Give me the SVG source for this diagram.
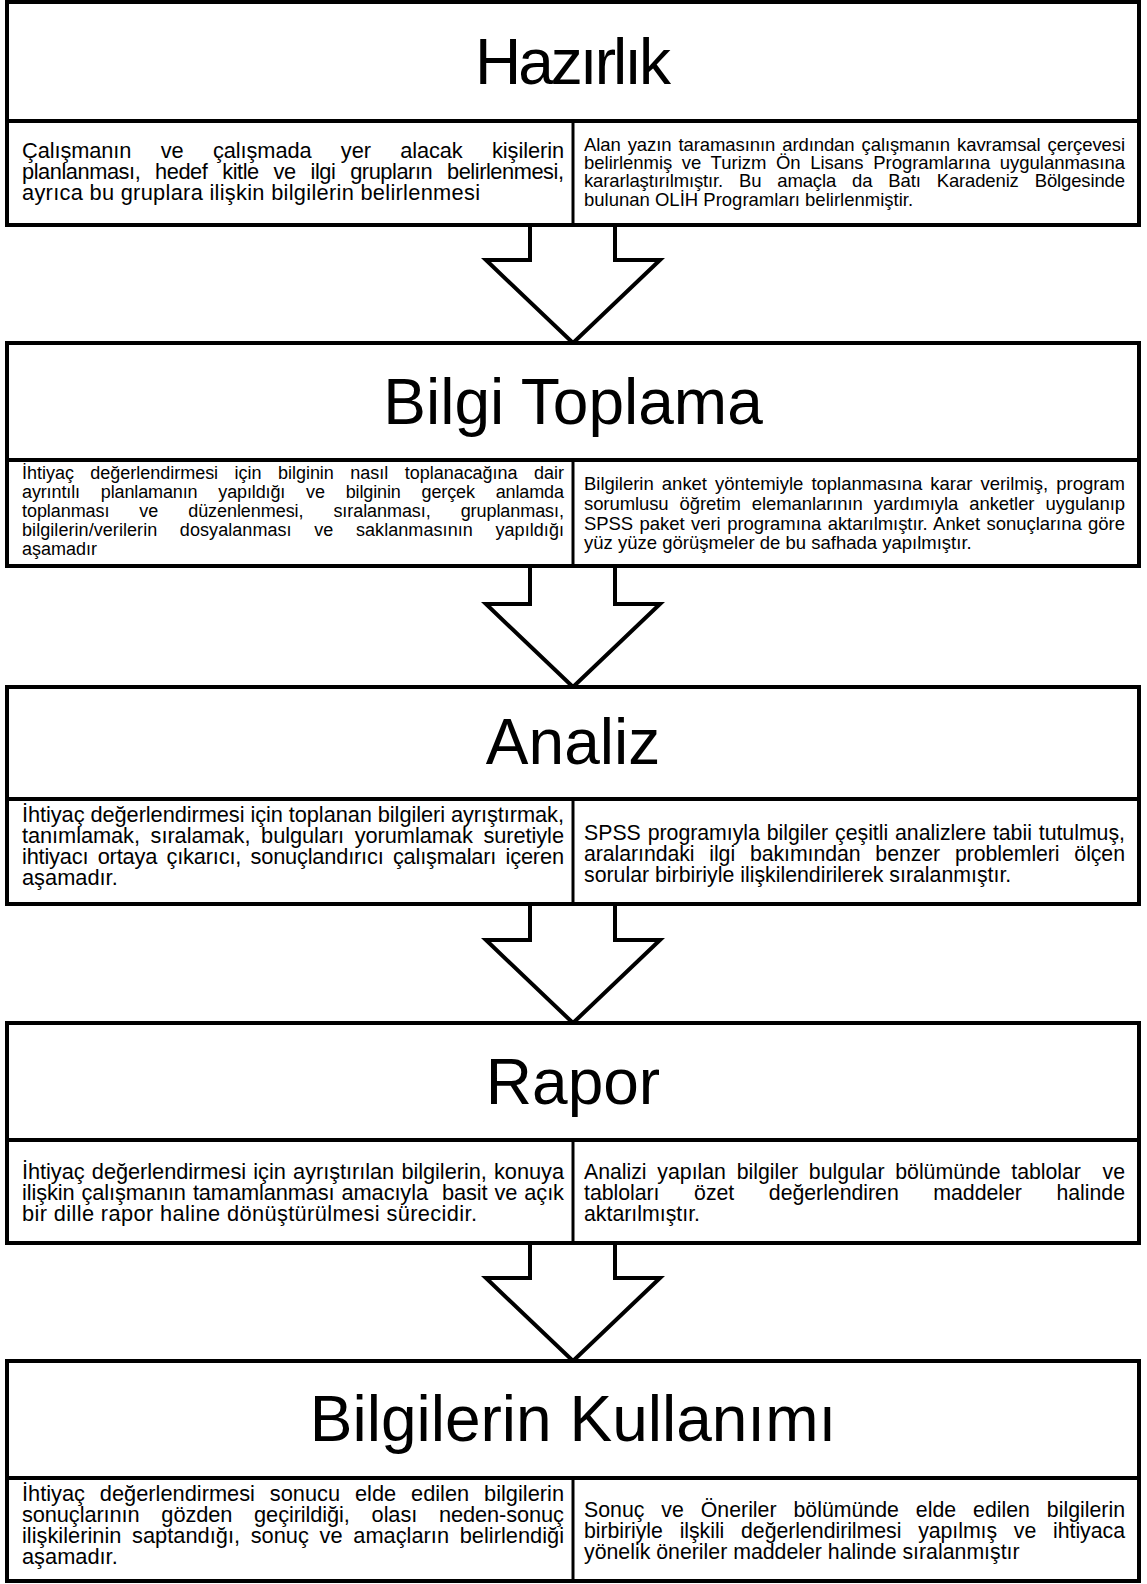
<svg xmlns="http://www.w3.org/2000/svg" width="1147" height="1584" viewBox="0 0 1147 1584">
<style>
.frame{fill:#fff;stroke:#000;stroke-width:4}
.ln{stroke:#000;stroke-width:4;fill:none}
.vd{stroke:#000;stroke-width:3;fill:none}
.title{font-family:"Liberation Sans",Arial,sans-serif;font-size:64px;fill:#000;text-anchor:middle}
.L{font-family:"Liberation Sans",Arial,sans-serif;font-size:21.8px;fill:#000}
.b{font-family:"Liberation Sans",Arial,sans-serif;font-size:21.3px;fill:#000}
.s{font-family:"Liberation Sans",Arial,sans-serif;font-size:18.5px;fill:#000}
.s2{font-family:"Liberation Sans",Arial,sans-serif;font-size:18px;fill:#000}
.arrow{fill:#fff;stroke:#000;stroke-width:4;stroke-linejoin:miter}
</style>
<rect width="1147" height="1584" fill="#fff"/>
<g id="connectors">
<path class="arrow" d="M530,225 V260 H486 L573,343 L660,260 H615 V225"/>
<path class="arrow" d="M530,566 V604 H486 L573,687 L660,604 H615 V566"/>
<path class="arrow" d="M530,904 V940 H486 L573,1023 L660,940 H615 V904"/>
<path class="arrow" d="M530,1243 V1278 H486 L573,1361 L660,1278 H615 V1243"/>
</g>
<g id="hazirlik">
<rect class="frame" x="7" y="2" width="1132" height="223"/>
<line class="ln" x1="7" y1="121" x2="1139" y2="121"/>
<line class="vd" x1="573" y1="121" x2="573" y2="225"/>
<text class="title" x="573" y="84" textLength="196" lengthAdjust="spacing">Hazırlık</text>
<text class="L" x="22" y="158" textLength="542" lengthAdjust="spacing" word-spacing="23.4">Çalışmanın ve çalışmada yer alacak kişilerin</text>
<text class="L" x="22" y="179" textLength="542" lengthAdjust="spacing" word-spacing="9.2">planlanması, hedef kitle ve ilgi grupların belirlenmesi,</text>
<text class="L" x="22" y="200" textLength="458" lengthAdjust="spacing">ayrıca bu gruplara ilişkin bilgilerin belirlenmesi</text>
<text class="s" x="584" y="151" textLength="541" lengthAdjust="spacing" word-spacing="2">Alan yazın taramasının ardından çalışmanın kavramsal çerçevesi</text>
<text class="s" x="584" y="169" textLength="541" lengthAdjust="spacing" word-spacing="4.5">belirlenmiş ve Turizm Ön Lisans Programlarına uygulanmasına</text>
<text class="s" x="584" y="187" textLength="541" lengthAdjust="spacing" word-spacing="11">kararlaştırılmıştır. Bu amaçla da Batı Karadeniz Bölgesinde</text>
<text class="s" x="584" y="206">bulunan OLİH Programları belirlenmiştir.</text>
</g>
<g id="bilgi-toplama">
<rect class="frame" x="7" y="343" width="1132" height="223"/>
<line class="ln" x1="7" y1="460" x2="1139" y2="460"/>
<line class="vd" x1="573" y1="460" x2="573" y2="566"/>
<text class="title" x="573" y="424">Bilgi Toplama</text>
<text class="s2" x="22" y="479" textLength="542" lengthAdjust="spacing" word-spacing="11.5">İhtiyaç değerlendirmesi için bilginin nasıl toplanacağına dair</text>
<text class="s2" x="22" y="498" textLength="542" lengthAdjust="spacing" word-spacing="16">ayrıntılı planlamanın yapıldığı ve bilginin gerçek anlamda</text>
<text class="s2" x="22" y="517" textLength="542" lengthAdjust="spacing" word-spacing="25">toplanması ve düzenlenmesi, sıralanması, gruplanması,</text>
<text class="s2" x="22" y="536" textLength="542" lengthAdjust="spacing" word-spacing="17.5">bilgilerin/verilerin dosyalanması ve saklanmasının yapıldığı</text>
<text class="s2" x="22" y="555">aşamadır</text>
<text class="s" x="584" y="490" textLength="541" lengthAdjust="spacing" word-spacing="3">Bilgilerin anket yöntemiyle toplanmasına karar verilmiş, program</text>
<text class="s" x="584" y="510" textLength="541" lengthAdjust="spacing" word-spacing="6">sorumlusu öğretim elemanlarının yardımıyla anketler uygulanıp</text>
<text class="s" x="584" y="530" textLength="541" lengthAdjust="spacing" word-spacing="1.4">SPSS paket veri programına aktarılmıştır. Anket sonuçlarına göre</text>
<text class="s" x="584" y="549">yüz yüze görüşmeler de bu safhada yapılmıştır.</text>
</g>
<g id="analiz">
<rect class="frame" x="7" y="687" width="1132" height="217"/>
<line class="ln" x1="7" y1="799" x2="1139" y2="799"/>
<line class="vd" x1="573" y1="799" x2="573" y2="904"/>
<text class="title" x="573" y="764">Analiz</text>
<text class="L" x="22" y="822" textLength="542" lengthAdjust="spacing">İhtiyaç değerlendirmesi için toplanan bilgileri ayrıştırmak,</text>
<text class="L" x="22" y="843" textLength="542" lengthAdjust="spacing" word-spacing="4.7">tanımlamak, sıralamak, bulguları yorumlamak suretiyle</text>
<text class="L" x="22" y="864" textLength="542" lengthAdjust="spacing" word-spacing="3.5">ihtiyacı ortaya çıkarıcı, sonuçlandırıcı çalışmaları içeren</text>
<text class="L" x="22" y="885">aşamadır.</text>
<text class="b" x="584" y="840" textLength="541" lengthAdjust="spacing" word-spacing="1">SPSS programıyla bilgiler çeşitli analizlere tabii tutulmuş,</text>
<text class="b" x="584" y="861" textLength="541" lengthAdjust="spacing" word-spacing="9">aralarındaki ilgi bakımından benzer problemleri ölçen</text>
<text class="b" x="584" y="882">sorular birbiriyle ilişkilendirilerek sıralanmıştır.</text>
</g>
<g id="rapor">
<rect class="frame" x="7" y="1023" width="1132" height="220"/>
<line class="ln" x1="7" y1="1140" x2="1139" y2="1140"/>
<line class="vd" x1="573" y1="1140" x2="573" y2="1243"/>
<text class="title" x="573" y="1104">Rapor</text>
<text class="L" x="22" y="1179" textLength="542" lengthAdjust="spacing" word-spacing="1.3">İhtiyaç değerlendirmesi için ayrıştırılan bilgilerin, konuya</text>
<text class="L" x="22" y="1200" textLength="542" lengthAdjust="spacing" word-spacing="1.1" xml:space="preserve">ilişkin çalışmanın tamamlanması amacıyla  basit ve açık</text>
<text class="L" x="22" y="1221" textLength="455" lengthAdjust="spacing">bir dille rapor haline dönüştürülmesi sürecidir.</text>
<text class="b" x="584" y="1179" textLength="541" lengthAdjust="spacing" word-spacing="4.9" xml:space="preserve">Analizi yapılan bilgiler bulgular bölümünde tablolar  ve</text>
<text class="b" x="584" y="1200" textLength="541" lengthAdjust="spacing" word-spacing="28.7">tabloları özet değerlendiren maddeler halinde</text>
<text class="b" x="584" y="1221">aktarılmıştır.</text>
</g>
<g id="bilgilerin-kullanimi">
<rect class="frame" x="7" y="1361" width="1132" height="220"/>
<line class="ln" x1="7" y1="1478" x2="1139" y2="1478"/>
<line class="vd" x1="573" y1="1478" x2="573" y2="1581"/>
<text class="title" x="573" y="1441">Bilgilerin Kullanımı</text>
<text class="L" x="22" y="1501" textLength="542" lengthAdjust="spacing" word-spacing="8.8">İhtiyaç değerlendirmesi sonucu elde edilen bilgilerin</text>
<text class="L" x="22" y="1522" textLength="542" lengthAdjust="spacing" word-spacing="15.9">sonuçlarının gözden geçirildiği, olası neden-sonuç</text>
<text class="L" x="22" y="1543" textLength="542" lengthAdjust="spacing" word-spacing="4.6">ilişkilerinin saptandığı, sonuç ve amaçların belirlendiği</text>
<text class="L" x="22" y="1564">aşamadır.</text>
<text class="b" x="584" y="1517" textLength="541" lengthAdjust="spacing" word-spacing="11">Sonuç ve Öneriler bölümünde elde edilen bilgilerin</text>
<text class="b" x="584" y="1538" textLength="541" lengthAdjust="spacing" word-spacing="10.9">birbiriyle ilşkili değerlendirilmesi yapılmış ve ihtiyaca</text>
<text class="b" x="584" y="1559">yönelik öneriler maddeler halinde sıralanmıştır</text>
</g>
</svg>
